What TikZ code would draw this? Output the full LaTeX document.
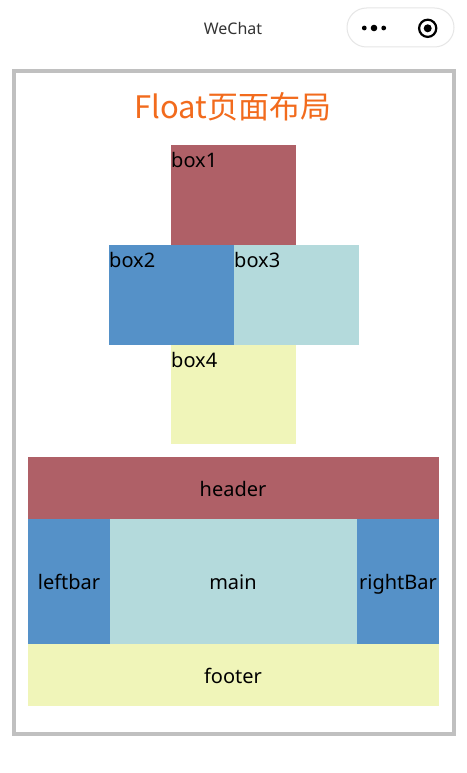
\documentclass[tikz,border=0pt]{standalone}
\usepackage{fontspec}
\setmainfont{Noto Sans}
\newfontfamily\cjk{Noto Sans CJK SC}
\definecolor{cred}{HTML}{AF6067}
\definecolor{cblue}{HTML}{5591C8}
\definecolor{ccyan}{HTML}{B4DADC}
\definecolor{cyellow}{HTML}{F0F5B9}
\definecolor{cborder}{HTML}{C0C0C0}
\definecolor{corange}{HTML}{F26B1D}
\definecolor{cpill}{HTML}{E6E6E6}
\begin{document}
\begin{tikzpicture}[x=1pt,y=-1pt,
  blk/.style={rectangle,inner sep=0pt,outer sep=0pt,anchor=north west,draw=none},
  boxlbl/.style={anchor=base west,inner sep=0pt,font=\fontsize{20}{24}\selectfont},
  barlbl/.style={anchor=base,inner sep=0pt,font=\fontsize{20}{24}\selectfont}]
\useasboundingbox (0,0) rectangle (466,773);
\fill[white] (0,0) rectangle (466,773);
% top bar
\node[anchor=base,inner sep=0pt,text=black!80,font=\fontsize{16}{19}\selectfont] (wechat) at (233,35) {WeChat};
\draw[cpill,fill=white,line width=1pt,rounded corners=19.5pt] (347,8) rectangle (454,47);
\fill (364.3,28) circle (2.4);
\fill (374,28) circle (3.3);
\fill (383.7,28) circle (2.4);
\draw[line width=2.2pt] (427.7,28.3) circle (8.6);
\fill (427.7,28.3) circle (4);
% frame
\draw[cborder,line width=4pt] (14,71) rectangle (454,734);
\node[anchor=base,inner sep=0pt,text=corange,font=\cjk\fontsize{31}{36}\selectfont] (title) at (233,118) {Float页面布局};
% boxes
\node[blk,fill=cred,minimum width=125pt,minimum height=100pt] (b1) at (171,145) {};
\node[blk,fill=cblue,minimum width=125pt,minimum height=100pt] (b2) at (109,245) {};
\node[blk,fill=ccyan,minimum width=125pt,minimum height=100pt] (b3) at (234,245) {};
\node[blk,fill=cyellow,minimum width=125pt,minimum height=99pt] (b4) at (171,345) {};
\node[boxlbl] (l1) at (171,167) {box1};
\node[boxlbl] (l2) at (109,267) {box2};
\node[boxlbl] (l3) at (234,267) {box3};
\node[boxlbl] (l4) at (171,367) {box4};
% layout
\node[blk,fill=cred,minimum width=411pt,minimum height=62pt] (header) at (28,457) {};
\node[blk,fill=cblue,minimum width=82pt,minimum height=125pt] (left) at (28,519) {};
\node[blk,fill=ccyan,minimum width=247pt,minimum height=125pt] (main) at (110,519) {};
\node[blk,fill=cblue,minimum width=82pt,minimum height=125pt] (right) at (357,519) {};
\node[blk,fill=cyellow,minimum width=411pt,minimum height=62pt] (footer) at (28,644) {};
\node[barlbl] (th) at (233,496) {header};
\node[barlbl] (tl) at (69,589) {leftbar};
\node[barlbl] (tm) at (233,589) {main};
\node[barlbl] (tr) at (398,589) {rightBar};
\node[barlbl] (tf) at (233,683) {footer};
\end{tikzpicture}
\end{document}
